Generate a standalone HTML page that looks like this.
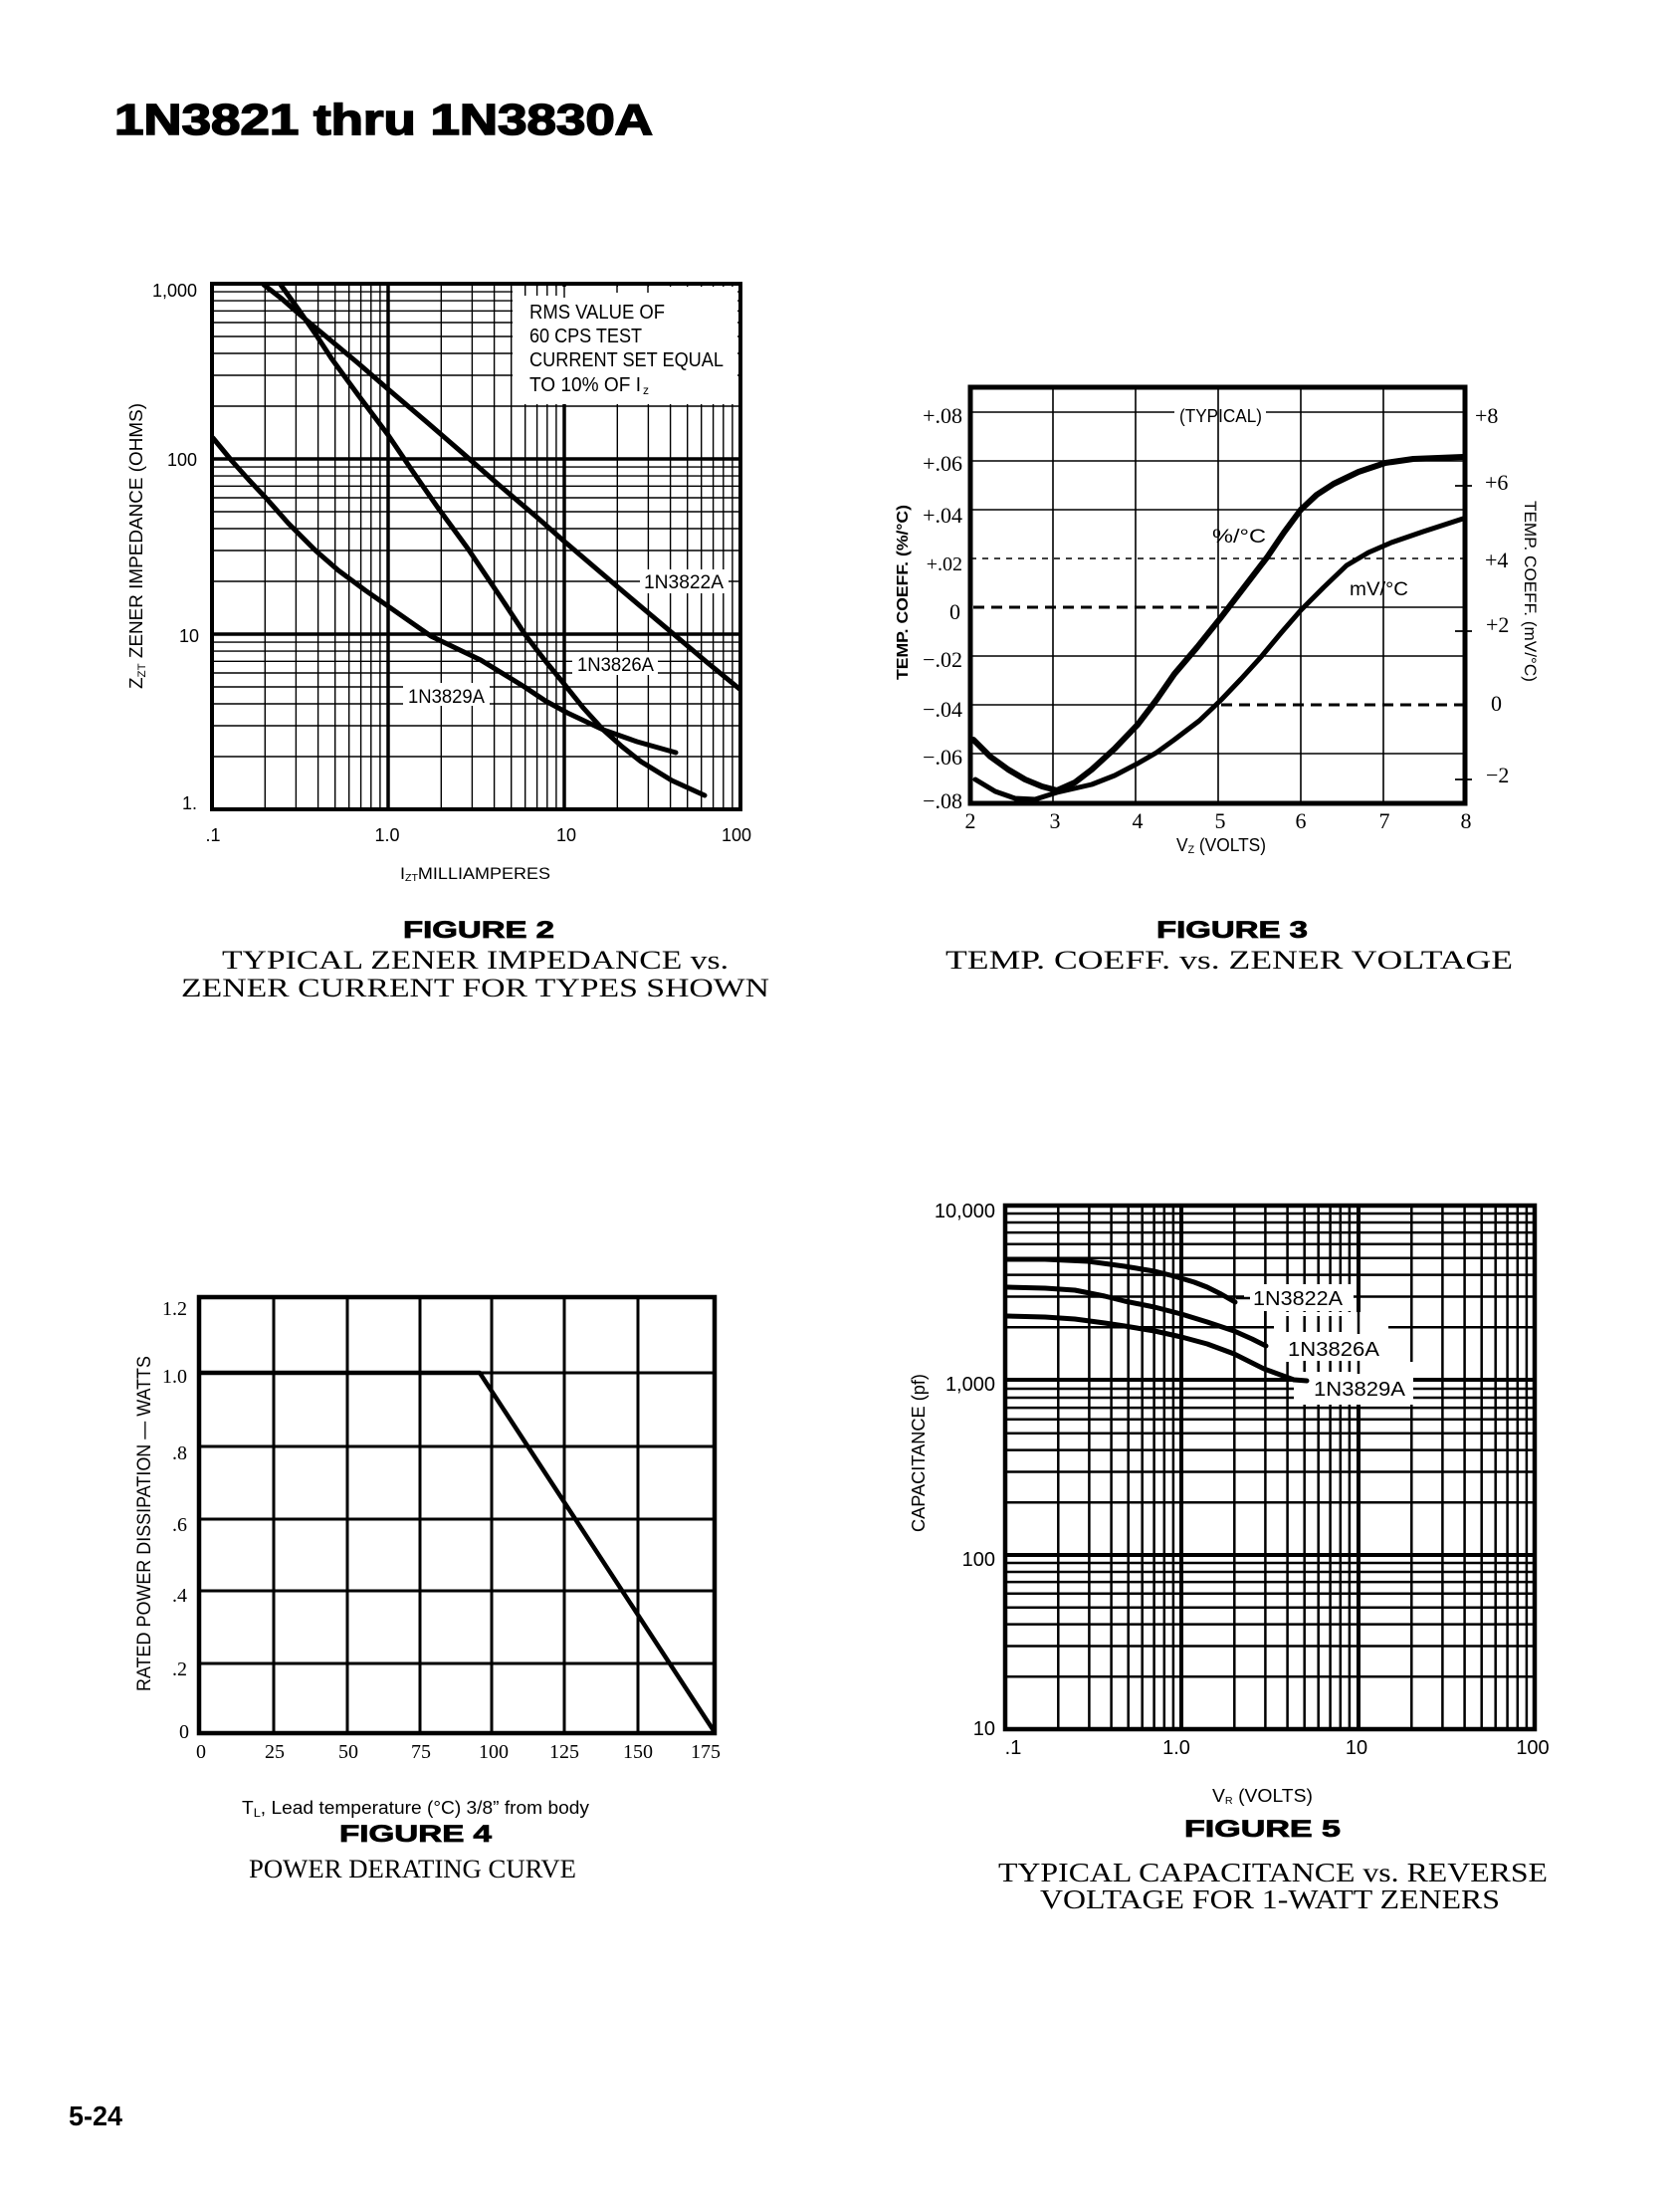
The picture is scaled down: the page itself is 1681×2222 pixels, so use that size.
<!DOCTYPE html>
<html><head><meta charset="utf-8"><style>
html,body{margin:0;padding:0;background:#fff;}
svg{display:block;}
.s{font-family:"Liberation Sans",sans-serif;}
.r{font-family:"Liberation Serif",serif;}
</style></head><body>
<svg xmlns="http://www.w3.org/2000/svg" width="1681" height="2222" viewBox="0 0 1681 2222">
<rect width="1681" height="2222" fill="#fff"/>

<!-- Title -->
<text class="s" x="115" y="135" font-size="44" font-weight="bold" stroke="#000" stroke-width="1.6" textLength="541" lengthAdjust="spacingAndGlyphs">1N3821 thru 1N3830A</text>

<!-- ================= FIGURE 2 ================= -->
<g stroke="#000" fill="none">
<path stroke-width="1.4" d="M266.3 285V813M297.4 285V813M319.6 285V813M336.7 285V813M350.7 285V813M362.6 285V813M372.8 285V813M381.9 285V813
M443.3 285V813M474.4 285V813M496.6 285V813M513.7 285V813M527.7 285V813M539.6 285V813M549.8 285V813M558.9 285V813
M620.3 285V813M651.4 285V813M673.6 285V813M690.7 285V813M704.7 285V813M716.6 285V813M726.8 285V813M735.9 285V813
M213 760H744M213 729H744M213 707H744M213 690H744M213 676H744M213 664.3H744M213 654.1H744M213 645.1H744
M213 584H744M213 553H744M213 531H744M213 514H744M213 500H744M213 488.3H744M213 478.1H744M213 469.1H744
M213 408H744M213 377H744M213 355H744M213 338H744M213 324H744M213 312.3H744M213 302.1H744M213 293.1H744"/>
<path stroke-width="3.5" d="M390 285V813M567 285V813M213 637H744M213 461H744"/>
</g>
<!-- annotation box -->
<rect x="515" y="288" width="226" height="118" fill="#fff"/>
<path stroke="#000" stroke-width="1.4" d="M527.7 287V297M539.6 287V297M549.8 287V297M558.9 287V297M567 287V299M620 287V294M651 287V294"/>
<rect x="643" y="572" width="89" height="24" fill="#fff"/>
<rect x="575" y="655" width="86" height="23" fill="#fff"/>
<rect x="405" y="686" width="87" height="23" fill="#fff"/>
<rect x="213" y="285" width="531" height="528" fill="none" stroke="#000" stroke-width="4"/>
<g fill="none" stroke="#000" stroke-width="5" stroke-linejoin="round" stroke-linecap="round">
<polyline points="265,286 283,300 300,315 330,340 360,365 390,391 430,425 467,457 500,486 540,520 566,543 600,572 640,606 678,638 710,665 743,692"/>
<polyline points="282,286 300,311 318,337 333,360 360,397 390,437 415,474 440,510 470,551 503,600 528,638 548,664 566,686 586,711 606,733 625,750 644,765 675,784 708,799"/>
<polyline points="214,440 233,463 250,482 267,500 290,526 317,553 340,573 367,593 390,609 410,623 433,639 460,652 483,663 527,690 548,704 570,716 606,733 640,745 679,756"/>
</g>
<g class="s" font-size="18" fill="#000">
<text x="198" y="298" text-anchor="end">1,000</text>
<text x="198" y="468" text-anchor="end">100</text>
<text x="200" y="645" text-anchor="end">10</text>
<text x="198" y="813" text-anchor="end">1.</text>
<text x="214" y="845" text-anchor="middle">.1</text>
<text x="389" y="845" text-anchor="middle">1.0</text>
<text x="569" y="845" text-anchor="middle">10</text>
<text x="740" y="845" text-anchor="middle">100</text>
<text x="402" y="883" font-size="17" textLength="151" lengthAdjust="spacingAndGlyphs">I<tspan font-size="10" dy="2">ZT</tspan><tspan dy="-2">MILLIAMPERES</tspan></text>
<text transform="translate(143,692) rotate(-90)" x="0" y="0" font-size="18" textLength="287" lengthAdjust="spacingAndGlyphs">Z<tspan font-size="11" dy="3">ZT</tspan><tspan dy="-3">  ZENER IMPEDANCE (OHMS)</tspan></text>
<text x="532" y="320" font-size="20" textLength="136" lengthAdjust="spacingAndGlyphs">RMS VALUE OF</text>
<text x="532" y="344" font-size="20" textLength="113" lengthAdjust="spacingAndGlyphs">60 CPS TEST</text>
<text x="532" y="368" font-size="20" textLength="195" lengthAdjust="spacingAndGlyphs">CURRENT SET EQUAL</text>
<text x="532" y="393" font-size="20" textLength="112" lengthAdjust="spacingAndGlyphs">TO 10% OF I</text>
<text x="646" y="396" font-size="12">z</text>
<text x="647" y="591" font-size="19" textLength="80" lengthAdjust="spacingAndGlyphs">1N3822A</text>
<text x="580" y="674" font-size="19" textLength="77" lengthAdjust="spacingAndGlyphs">1N3826A</text>
<text x="410" y="706" font-size="19" textLength="77" lengthAdjust="spacingAndGlyphs">1N3829A</text>
</g>
<text class="s" x="405" y="942" font-size="24" font-weight="bold" stroke="#000" stroke-width="0.8" textLength="152" lengthAdjust="spacingAndGlyphs">FIGURE 2</text>
<text class="r" x="223" y="973" font-size="26" textLength="509" lengthAdjust="spacingAndGlyphs">TYPICAL ZENER IMPEDANCE vs.</text>
<text class="r" x="182" y="1001" font-size="26" textLength="591" lengthAdjust="spacingAndGlyphs">ZENER CURRENT FOR TYPES SHOWN</text>

<!-- ================= FIGURE 3 ================= -->
<g stroke="#000" fill="none" stroke-width="1.6">
<path d="M1058 389V807M1141 389V807M1224 389V807M1307 389V807M1390 389V807"/>
<path d="M975 414H1180M1272 414H1472M975 463H1472M975 512H1472M1227 610H1472M975 659H1472M975 708H1224M975 757H1472"/>
<path stroke-dasharray="6 6" d="M975 561H1472"/>
<path stroke-width="3" stroke-dasharray="11 7" d="M978 610H1227M1227 708H1470"/>
<path stroke-width="1.8" d="M1462 488H1479M1462 634H1479M1462 783H1479"/>
</g>
<rect x="975" y="389" width="497" height="418" fill="none" stroke="#000" stroke-width="5"/>
<g fill="none" stroke="#000" stroke-linejoin="round" stroke-linecap="round">
<polyline stroke-width="6" points="978,743 995,760 1013,773 1030,783 1047,790 1062,794 1080,786 1097,773 1120,752 1143,728 1162,703 1180,677 1203,650 1227,620 1250,590 1273,560 1290,535 1307,512 1323,497 1340,486 1365,474 1392,465 1420,461 1470,459"/>
<polyline stroke-width="5" points="980,783 1000,795 1020,802 1040,803 1062,796 1097,788 1120,779 1143,767 1162,756 1180,743 1205,724 1227,703 1247,682 1267,660 1287,636 1307,613 1330,590 1353,568 1375,555 1398,545 1430,534 1470,521"/>
</g>
<g class="r" font-size="22" fill="#000" text-anchor="end">
<text x="967" y="425">+.08</text>
<text x="967" y="473">+.06</text>
<text x="967" y="525">+.04</text>
<text x="967" y="573" font-size="20">+.02</text>
<text x="965" y="622">0</text>
<text x="967" y="670">−.02</text>
<text x="967" y="720">−.04</text>
<text x="967" y="768">−.06</text>
<text x="967" y="812">−.08</text>
</g>
<g class="r" font-size="22" fill="#000" text-anchor="middle">
<text x="975" y="832">2</text>
<text x="1060" y="832">3</text>
<text x="1143" y="832">4</text>
<text x="1226" y="832">5</text>
<text x="1307" y="832">6</text>
<text x="1391" y="832">7</text>
<text x="1473" y="832">8</text>
</g>
<g class="r" font-size="22" fill="#000">
<text x="1482" y="425">+8</text>
<text x="1492" y="492">+6</text>
<text x="1492" y="570">+4</text>
<text x="1493" y="635">+2</text>
<text x="1498" y="714">0</text>
<text x="1493" y="786">−2</text>
</g>
<g class="s" fill="#000">
<text x="1185" y="424" font-size="18" textLength="83" lengthAdjust="spacingAndGlyphs">(TYPICAL)</text>
<text x="1218" y="545" font-size="19" textLength="54" lengthAdjust="spacingAndGlyphs">%/°C</text>
<text x="1356" y="598" font-size="19" textLength="59" lengthAdjust="spacingAndGlyphs">mV/°C</text>
<text x="1182" y="855" font-size="18" textLength="90" lengthAdjust="spacingAndGlyphs">V<tspan font-size="11" dy="2">Z</tspan><tspan dy="-2"> (VOLTS)</tspan></text>
<text transform="translate(912,683) rotate(-90)" font-size="16" font-weight="bold" textLength="176" lengthAdjust="spacingAndGlyphs">TEMP. COEFF. (%/°C)</text>
<text transform="translate(1532,503) rotate(90)" font-size="17" textLength="182" lengthAdjust="spacingAndGlyphs">TEMP. COEFF. (mV/°C)</text>
</g>
<text class="s" x="1162" y="942" font-size="24" font-weight="bold" stroke="#000" stroke-width="0.8" textLength="152" lengthAdjust="spacingAndGlyphs">FIGURE 3</text>
<text class="r" x="950" y="973" font-size="26" textLength="570" lengthAdjust="spacingAndGlyphs">TEMP. COEFF. vs.  ZENER VOLTAGE</text>

<!-- ================= FIGURE 4 ================= -->
<g stroke="#000" fill="none" stroke-width="3">
<path d="M275 1303V1741M349 1303V1741M422 1303V1741M494 1303V1741M567 1303V1741M641 1303V1741"/>
<path d="M200 1379H718M200 1453H718M200 1526H718M200 1598H718M200 1671H718"/>
</g>
<rect x="200" y="1303" width="518" height="438" fill="none" stroke="#000" stroke-width="4.5"/>
<polyline points="200,1379 482,1379 718,1740" fill="none" stroke="#000" stroke-width="4.5" stroke-linejoin="round"/>
<g class="r" font-size="20" fill="#000" text-anchor="end">
<text x="188" y="1321">1.2</text>
<text x="188" y="1389">1.0</text>
<text x="188" y="1466">.8</text>
<text x="188" y="1538">.6</text>
<text x="188" y="1609">.4</text>
<text x="188" y="1683">.2</text>
<text x="190" y="1746">0</text>
</g>
<g class="r" font-size="20" fill="#000" text-anchor="middle">
<text x="202" y="1766">0</text>
<text x="276" y="1766">25</text>
<text x="350" y="1766">50</text>
<text x="423" y="1766">75</text>
<text x="496" y="1766">100</text>
<text x="567" y="1766">125</text>
<text x="641" y="1766">150</text>
<text x="709" y="1766">175</text>
</g>
<g class="s" fill="#000">
<text transform="translate(151,1699) rotate(-90)" font-size="19" textLength="337" lengthAdjust="spacingAndGlyphs">RATED POWER DISSIPATION — WATTS</text>
<text x="243" y="1822" font-size="18" textLength="349" lengthAdjust="spacingAndGlyphs">T<tspan font-size="12" dy="3">L</tspan><tspan dy="-3">, Lead temperature (°C)  3/8” from body</tspan></text>
</g>
<text class="s" x="341" y="1850" font-size="24" font-weight="bold" stroke="#000" stroke-width="0.8" textLength="153" lengthAdjust="spacingAndGlyphs">FIGURE 4</text>
<text class="r" x="250" y="1886" font-size="26" textLength="329" lengthAdjust="spacingAndGlyphs">POWER DERATING CURVE</text>

<!-- ================= FIGURE 5 ================= -->
<g stroke="#000" fill="none" stroke-width="2.5">
<path d="M1063.3 1211V1737M1094.4 1211V1737M1116.6 1211V1737M1133.7 1211V1737M1147.7 1211V1737M1159.6 1211V1737M1169.8 1211V1737M1178.9 1211V1737
M1240.3 1211V1737M1271.4 1211V1737M1293.6 1211V1737M1310.7 1211V1737M1324.7 1211V1737M1336.6 1211V1737M1346.8 1211V1737M1355.9 1211V1737
M1418.3 1211V1737M1449.4 1211V1737M1471.6 1211V1737M1488.7 1211V1737M1502.7 1211V1737M1514.6 1211V1737M1524.8 1211V1737M1533.9 1211V1737
M1010 1684.3H1542M1010 1653.5H1542M1010 1631.6H1542M1010 1614.7H1542M1010 1600.8H1542M1010 1589.1H1542M1010 1579H1542M1010 1570H1542
M1010 1509.3H1542M1010 1478.5H1542M1010 1456.6H1542M1010 1439.7H1542M1010 1425.8H1542M1010 1414.1H1542M1010 1404H1542M1010 1395H1542
M1010 1333.3H1542M1010 1302.5H1542M1010 1280.6H1542M1010 1263.7H1542M1010 1249.8H1542M1010 1238.1H1542M1010 1228H1542M1010 1219H1542"/>
<path stroke-width="4" d="M1187 1211V1737M1365 1211V1737M1010 1386H1542M1010 1562H1542"/>
</g>
<!-- label clearings -->
<rect x="1250" y="1290" width="110" height="27" fill="#fff"/>
<rect x="1280" y="1318" width="115" height="50" fill="#fff"/>
<rect x="1300" y="1368" width="120" height="43" fill="#fff"/>
<path stroke="#000" stroke-width="2.5" fill="none" d="M1271.4 1317V1350M1293.6 1322V1338M1310.7 1322V1338M1324.7 1322V1338M1336.6 1322V1338M1346.8 1322V1338M1365 1317V1340
M1310.7 1367V1378M1324.7 1367V1378M1336.6 1367V1378M1346.8 1367V1378M1355.9 1367V1378M1365 1367V1380M1242 1304H1256"/>
<rect x="1010" y="1211" width="532" height="526" fill="none" stroke="#000" stroke-width="4.5"/>
<g fill="none" stroke="#000" stroke-width="5" stroke-linejoin="round" stroke-linecap="round">
<polyline points="1012,1265 1050,1265 1093,1267 1130,1272 1160,1277 1180,1282 1200,1288 1213,1293 1227,1300 1241,1308"/>
<polyline points="1012,1293 1050,1294 1080,1296 1110,1302 1130,1307 1160,1313 1187,1320 1213,1328 1240,1337 1258,1345 1272,1352"/>
<polyline points="1012,1322 1050,1323 1080,1325 1110,1329 1130,1332 1160,1337 1187,1343 1213,1350 1240,1360 1270,1375 1300,1386 1313,1387"/>
</g>
<g class="s" fill="#000" font-size="20">
<text x="1259" y="1311" textLength="90" lengthAdjust="spacingAndGlyphs">1N3822A</text>
<text x="1294" y="1362" textLength="92" lengthAdjust="spacingAndGlyphs">1N3826A</text>
<text x="1320" y="1402" textLength="92" lengthAdjust="spacingAndGlyphs">1N3829A</text>
<text x="1000" y="1223" text-anchor="end">10,000</text>
<text x="1000" y="1397" text-anchor="end">1,000</text>
<text x="1000" y="1573" text-anchor="end">100</text>
<text x="1000" y="1743" text-anchor="end">10</text>
<text x="1018" y="1762" text-anchor="middle">.1</text>
<text x="1182" y="1762" text-anchor="middle">1.0</text>
<text x="1363" y="1762" text-anchor="middle">10</text>
<text x="1540" y="1762" text-anchor="middle">100</text>
<text transform="translate(929,1539) rotate(-90)" font-size="18" textLength="159" lengthAdjust="spacingAndGlyphs">CAPACITANCE (pf)</text>
<text x="1218" y="1810" font-size="18" textLength="101" lengthAdjust="spacingAndGlyphs">V<tspan font-size="10" dy="2">R</tspan><tspan dy="-2"> (VOLTS)</tspan></text>
</g>
<text class="s" x="1190" y="1845" font-size="24" font-weight="bold" stroke="#000" stroke-width="0.8" textLength="157" lengthAdjust="spacingAndGlyphs">FIGURE 5</text>
<text class="r" x="1003" y="1890" font-size="27" textLength="552" lengthAdjust="spacingAndGlyphs">TYPICAL CAPACITANCE vs. REVERSE</text>
<text class="r" x="1045" y="1917" font-size="27" textLength="462" lengthAdjust="spacingAndGlyphs">VOLTAGE FOR 1-WATT ZENERS</text>

<!-- page number -->
<text class="s" x="69" y="2135" font-size="28" font-weight="bold" textLength="54" lengthAdjust="spacingAndGlyphs">5-24</text>
</svg>
</body></html>
